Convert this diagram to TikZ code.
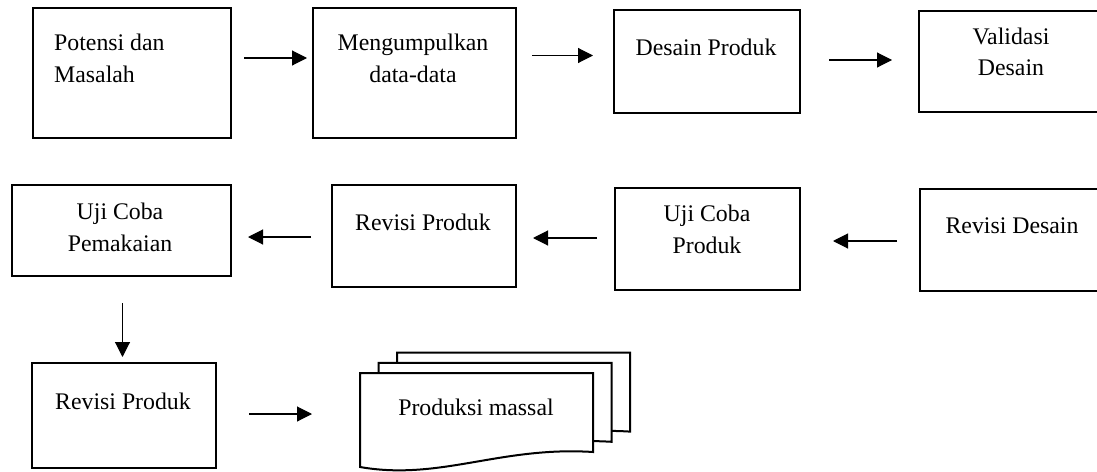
\documentclass[tikz,border=0pt]{standalone}
\usepackage{fontspec}
\setmainfont{Liberation Serif}
\usetikzlibrary{arrows.meta}
\begin{document}
\begin{tikzpicture}[x=1pt,y=-1pt,
  boxst/.style={draw, line width=2pt, inner sep=0pt, anchor=north west},
  lbl/.style={inner sep=0pt, font=\fontsize{23.8}{31.5}\selectfont, align=center},
  arr/.style={line width=1.1pt, -{Triangle[length=15pt,width=15pt]}},
  docst/.style={draw, line width=2pt, fill=white}]
\useasboundingbox (0,0) rectangle (1097,471);
\clip (0,0) rectangle (1097,471);
% boxes
\node[boxst, minimum width=198pt, minimum height=130pt] (b1) at (32,7) {};
\node[boxst, minimum width=203pt, minimum height=130pt] (b2) at (312,7) {};
\node[boxst, minimum width=186pt, minimum height=103pt] (b3) at (613,9) {};
\node[boxst, minimum width=250pt, minimum height=101pt] (b4) at (918,10) {};
\node[boxst, minimum width=219.5pt, minimum height=91pt] (b5) at (10.5,184) {};
\node[boxst, minimum width=184pt, minimum height=102pt] (b6) at (331,184) {};
\node[boxst, minimum width=185pt, minimum height=102pt] (b7) at (614,187) {};
\node[boxst, minimum width=250pt, minimum height=102pt] (b8) at (919,188) {};
\node[boxst, minimum width=184pt, minimum height=105pt] (b9) at (31,362) {};
% multi-document shape
\foreach \dx/\dy in {37/-20.4, 18.5/-10.2, 0/0}{
  \draw[docst] ({360+\dx},{373+\dy}) -- ({593+\dx},{373+\dy}) -- ({593+\dx},{452+\dy})
    .. controls ({500+\dx},{446+\dy}) and ({440+\dx},{481+\dy}) .. ({360+\dx},{467+\dy}) -- cycle;
}
% labels
\node[lbl, align=left, anchor=west] (t1) at (54,58.5) {Potensi dan\\Masalah};
\node[lbl] (t2) at (413,58.5) {Mengumpulkan\\data-data};
\node[lbl] (t3) at (706,47) {Desain Produk};
\node[lbl] (t4) at (1011,52) {Validasi\\Desain};
\node[lbl] (t5) at (120,227.5) {Uji Coba\\Pemakaian};
\node[lbl] (t6) at (423,222) {Revisi Produk};
\node[lbl] (t7) at (707,229.5) {Uji Coba\\Produk};
\node[lbl] (t8) at (1012,226) {Revisi Desain};
\node[lbl] (t9) at (123,401) {Revisi Produk};
\node[lbl] (pm) at (476,407) {Produksi massal};
% arrow end points
\coordinate (a1s) at (244,58);   \coordinate (a1e) at (307,58);
\coordinate (a2s) at (532,55.5); \coordinate (a2e) at (593,55.5);
\coordinate (a3s) at (829,60);   \coordinate (a3e) at (892,60);
\coordinate (a4s) at (311,237);  \coordinate (a4e) at (248,237);
\coordinate (a5s) at (597,238);  \coordinate (a5e) at (533,238);
\coordinate (a6s) at (897,241);  \coordinate (a6e) at (833,241);
\coordinate (a7s) at (122.5,303);\coordinate (a7e) at (122.5,357);
\coordinate (a8s) at (249,414);  \coordinate (a8e) at (312,414);
\draw[arr] (a1s) -- (a1e);
\draw[arr] (a2s) -- (a2e);
\draw[arr] (a3s) -- (a3e);
\draw[arr] (a4s) -- (a4e);
\draw[arr] (a5s) -- (a5e);
\draw[arr] (a6s) -- (a6e);
\draw[arr] (a7s) -- (a7e);
\draw[arr] (a8s) -- (a8e);
\end{tikzpicture}
\end{document}
